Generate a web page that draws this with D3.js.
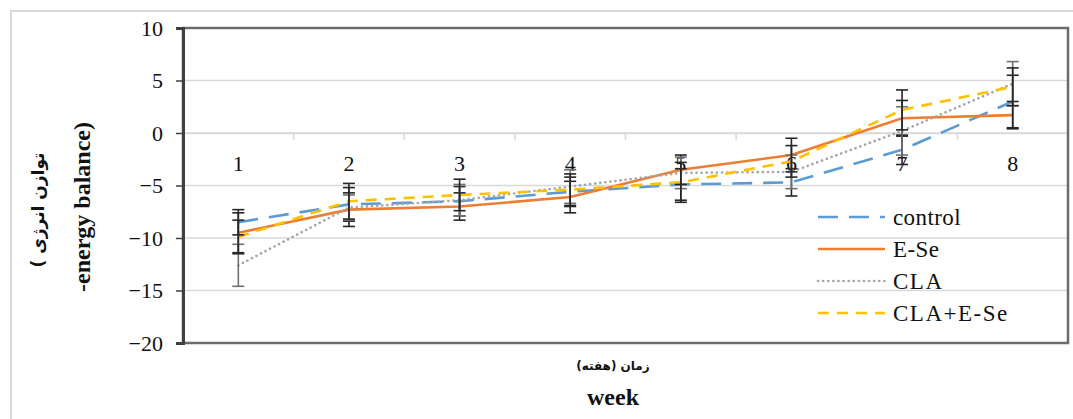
<!DOCTYPE html>
<html>
<head>
<meta charset="utf-8">
<script src="https://cdn.jsdelivr.net/npm/d3@7"></script>
<style>
  html, body { margin: 0; padding: 0; background: #fff; }
  svg { display: block; }
</style>
</head>
<body>
<svg id="chart" width="1073" height="419"></svg>
<script>
// Weeks on the category axis
const weeks = ["1", "2", "3", "4", "5", "6", "7", "8"];
const yTicks = [-20, -15, -10, -5, 0, 5, 10];

// Mean energy balance per week for each treatment
const control = [-8.5, -6.8, -6.5, -5.6, -4.9, -4.7, -1.6, 3.0];
const eSe     = [-9.5, -7.3, -7.0, -6.1, -3.5, -2.1, 1.4, 1.7];
const cla     = [-12.6, -7.1, -6.4, -5.1, -3.8, -3.7, 0.2, 4.7];
const claESe  = [-9.9, -6.5, -5.9, -5.4, -4.7, -2.7, 2.2, 4.4];

// Standard errors (symmetric) per week
const controlErr = [1.2, 1.6, 1.4, 1.4, 1.5, 1.3, 1.4, 2.5];
const eSeErr     = [1.9, 1.6, 1.3, 1.5, 1.4, 1.6, 1.7, 1.3];
const claErr     = [2.0, 1.2, 1.5, 1.6, 1.5, 1.6, 2.3, 2.1];
const claESeErr  = [1.6, 1.7, 1.5, 1.5, 1.9, 1.5, 1.9, 1.8];

const seriesNames = ["control", "E-Se", "CLA", "CLA+E-Se"];

const SERIF = '"Liberation Serif"';
const ARABIC = '"DejaVu Sans"';

const series = [
  { name: seriesNames[0], values: control, err: controlErr, color: "#5b9bd5", dash: "20,11", cap: "butt", width: 2.6, errColor: "#262626" },
  { name: seriesNames[1], values: eSe,     err: eSeErr,     color: "#ed7d31", dash: null,    cap: "butt", width: 2.6, errColor: "#262626" },
  { name: seriesNames[2], values: cla,     err: claErr,     color: "#a5a5a5", dash: "0.1,5", cap: "round", width: 2.6, errColor: "#6f6f6f" },
  { name: seriesNames[3], values: claESe,  err: claESeErr,  color: "#ffc000", dash: "11,8",  cap: "butt", width: 2.6, errColor: "#262626" }
];

const svg = d3.select("#chart");

// Outer chart frame
svg.append("path")
  .attr("d", "M11,419 V11 H1073")
  .attr("fill", "none")
  .attr("stroke", "#d9d9d9")
  .attr("stroke-width", 2);

const plot = { left: 183, right: 1068, top: 28, bottom: 343 };

const x = d3.scaleBand().domain(weeks).range([plot.left, plot.right]);
const y = d3.scaleLinear().domain([-20, 10]).range([plot.bottom, plot.top]);

// Horizontal gridlines
svg.append("g")
  .selectAll("line")
  .data(yTicks)
  .join("line")
  .attr("x1", plot.left)
  .attr("x2", plot.right)
  .attr("y1", d => y(d))
  .attr("y2", d => y(d))
  .attr("stroke", "#d9d9d9")
  .attr("stroke-width", 1.5);

// Category axis along zero, labels below it
const xAxis = svg.append("g")
  .attr("transform", `translate(0,${y(0)})`)
  .call(d3.axisBottom(x).tickSize(0))
  .attr("font-family", null)
  .attr("font-size", null);
xAxis.select(".domain").attr("stroke", "#d9d9d9").attr("stroke-width", 1.5);
xAxis.selectAll("text")
  .attr("dy", null)
  .attr("y", 38)
  .style("font-family", SERIF)
  .style("font-size", "22px")
  .attr("fill", "#111");
// Tick marks between categories
svg.append("g")
  .selectAll("line")
  .data(weeks.slice(1))
  .join("line")
  .attr("x1", d => x(d))
  .attr("x2", d => x(d))
  .attr("y1", y(0))
  .attr("y2", y(0) + 7)
  .attr("stroke", "#d9d9d9")
  .attr("stroke-width", 1.5);

// Plot frame
svg.append("rect")
  .attr("x", plot.left)
  .attr("y", plot.top)
  .attr("width", plot.right - plot.left)
  .attr("height", plot.bottom - plot.top)
  .attr("fill", "none")
  .attr("stroke", "#6b6b6b")
  .attr("stroke-width", 2.5);

// Value axis
const yAxis = svg.append("g")
  .attr("transform", `translate(${plot.left},0)`)
  .call(d3.axisLeft(y).tickValues(yTicks).tickSize(7).tickPadding(13))
  .attr("font-family", null)
  .attr("font-size", null);
yAxis.select(".domain").attr("stroke", "#404040").attr("stroke-width", 3);
yAxis.selectAll(".tick line").attr("stroke", "#404040").attr("stroke-width", 1.5);
yAxis.selectAll("text")
  .style("font-family", SERIF)
  .style("font-size", "22px")
  .attr("fill", "#111");

// Series lines
const line = d3.line()
  .x((d, i) => x(weeks[i]) + x.bandwidth() / 2)
  .y(d => y(d));

series.forEach(s => {
  svg.append("path")
    .datum(s.values)
    .attr("d", line)
    .attr("fill", "none")
    .attr("stroke", s.color)
    .attr("stroke-width", s.width)
    .attr("stroke-linecap", s.cap)
    .attr("stroke-dasharray", s.dash);
});

// Error bars
const capHalf = 6;
series.forEach(s => {
  const g = svg.append("g")
    .attr("stroke", s.errColor)
    .attr("stroke-width", 1.6);
  s.values.forEach((v, i) => {
    const cx = x(weeks[i]) + x.bandwidth() / 2;
    const hi = y(v + s.err[i]);
    const lo = y(v - s.err[i]);
    g.append("line").attr("x1", cx).attr("x2", cx).attr("y1", hi).attr("y2", lo);
    g.append("line").attr("x1", cx - capHalf).attr("x2", cx + capHalf).attr("y1", hi).attr("y2", hi);
    g.append("line").attr("x1", cx - capHalf).attr("x2", cx + capHalf).attr("y1", lo).attr("y2", lo);
  });
});

// Legend
const legend = svg.append("g").attr("transform", "translate(818,217)");
series.forEach((s, i) => {
  const row = legend.append("g").attr("transform", `translate(0,${i * 32})`);
  row.append("line")
    .attr("x1", 0).attr("x2", 67)
    .attr("y1", 0).attr("y2", 0)
    .attr("stroke", s.color)
    .attr("stroke-width", s.width)
    .attr("stroke-linecap", s.cap)
    .attr("stroke-dasharray", s.dash);
  row.append("text")
    .attr("x", 75)
    .attr("y", 8)
    .style("font-family", SERIF)
    .style("font-size", "23px")
    .style("letter-spacing", s.name.startsWith("CLA") ? "1.5px" : "0.4px")
    .attr("fill", "#111")
    .text(s.name);
});

// Value axis titles
svg.append("text")
  .attr("transform", "translate(90,207) rotate(-90)")
  .attr("text-anchor", "middle")
  .style("font-family", SERIF)
  .style("font-size", "24px")
  .style("font-weight", "bold")
  .attr("fill", "#111")
  .text("-energy balance)");

svg.append("text")
  .attr("transform", "translate(44,210) rotate(-90)")
  .attr("text-anchor", "middle")
  .style("font-family", ARABIC)
  .style("font-size", "17px")
  .style("font-weight", "bold")
  .attr("fill", "#111")
  .text("( توازن انرژی");

// Category axis titles
svg.append("text")
  .attr("x", 613)
  .attr("y", 370)
  .attr("text-anchor", "middle")
  .attr("direction", "rtl")
  .style("font-family", ARABIC)
  .style("font-size", "12px")
  .style("font-weight", "bold")
  .attr("fill", "#111")
  .text("زمان (هفته)");

svg.append("text")
  .attr("x", 613)
  .attr("y", 405)
  .attr("text-anchor", "middle")
  .style("font-family", SERIF)
  .style("font-size", "24px")
  .style("font-weight", "bold")
  .attr("fill", "#111")
  .text("week");
</script>
</body>
</html>
